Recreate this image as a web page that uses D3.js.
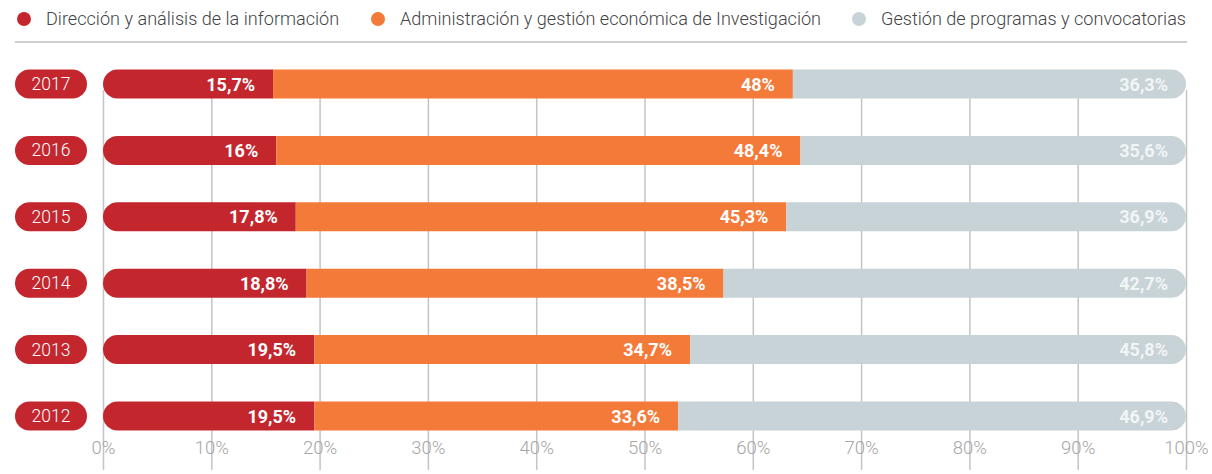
<!DOCTYPE html>
<html>
<head>
<meta charset="utf-8">
<script src="https://cdn.jsdelivr.net/npm/d3@7"></script>
<style>
  body { margin: 0; background: #fff; }
  svg { display: block; font-family: Roboto, "Noto Sans", sans-serif; }
</style>
</head>
<body>
<svg id="chart" width="1212" height="474"></svg>
<script>
// data
const years = ["2017", "2016", "2015", "2014", "2013", "2012"];
const series = [
  "Dirección y análisis de la información",
  "Administración y gestión económica de Investigación",
  "Gestión de programas y convocatorias"
];
const direccion = [15.7, 16, 17.8, 18.8, 19.5, 19.5];
const administracion = [48, 48.4, 45.3, 38.5, 34.7, 33.6];
const gestion = [36.3, 35.6, 36.9, 42.7, 45.8, 46.9];
const ticks = [0, 10, 20, 30, 40, 50, 60, 70, 80, 90, 100];

const colors = ["#c4262e", "#f47a3a", "#c8d3d8"];
const legendX = [24, 378, 859];

const svg = d3.select("#chart");
const fmt = v => String(v).replace(".", ",") + "%";

const x = d3.scaleLinear().domain([0, 100]).range([103, 1186]);
const y = d3.scalePoint().domain(years).range([84, 416]);
const barH = 29;
const r = barH / 2;

// legend
const legend = svg.append("g");
series.forEach((s, i) => {
  legend.append("circle")
    .attr("cx", legendX[i]).attr("cy", 19).attr("r", 7)
    .attr("fill", colors[i]);
  legend.append("text")
    .attr("x", legendX[i] + 22).attr("y", 25)
    .attr("font-size", 18.1).attr("font-weight", 300)
    .attr("fill", "#444")
    .text(s);
});
svg.append("line")
  .attr("x1", 15).attr("x2", 1187).attr("y1", 42).attr("y2", 42)
  .attr("stroke", "#a0a0a0").attr("stroke-width", 1.2);

// grid + axis labels
const axis = svg.append("g")
  .attr("transform", "translate(0,90)")
  .call(d3.axisBottom(x).tickValues(ticks).tickSize(380).tickFormat(d => d + "%"));
axis.select(".domain").remove();
axis.selectAll(".tick line").attr("stroke", "#c4c4c4").attr("stroke-width", 1.5);
axis.selectAll(".tick text")
  .attr("y", 364).attr("dy", 0)
  .attr("font-size", 18.5).attr("font-weight", 300)
  .attr("font-family", "Roboto, sans-serif")
  .attr("fill", "#a6a6a6");

// stacked rows
const rows = years.map((yr, i) => ({
  year: yr,
  vals: [direccion[i], administracion[i], gestion[i]]
}));

function segPath(x0, x1, yc, roundLeft, roundRight) {
  const t = yc - r, b = yc + r;
  const p = d3.path();
  if (roundLeft) {
    p.moveTo(x0 + r, t);
  } else {
    p.moveTo(x0, t);
  }
  if (roundRight) {
    p.lineTo(x1 - r, t);
    p.arc(x1 - r, yc, r, -Math.PI / 2, Math.PI / 2);
  } else {
    p.lineTo(x1, t);
    p.lineTo(x1, b);
  }
  if (roundLeft) {
    p.lineTo(x0 + r, b);
    p.arc(x0 + r, yc, r, Math.PI / 2, Math.PI * 1.5);
  } else {
    p.lineTo(x0, b);
  }
  p.closePath();
  return p.toString();
}

const row = svg.append("g").selectAll("g")
  .data(rows)
  .join("g");

// year pills
row.append("rect")
  .attr("x", 15).attr("y", d => y(d.year) - r)
  .attr("width", 72).attr("height", barH)
  .attr("rx", r)
  .attr("fill", colors[0]);
row.append("text")
  .attr("x", 51).attr("y", d => y(d.year) + 6)
  .attr("text-anchor", "middle")
  .attr("font-size", 17.5).attr("font-weight", 300)
  .attr("fill", "#fff")
  .text(d => d.year);

row.each(function(d) {
  const g = d3.select(this);
  const yc = y(d.year);
  let acc = 0;
  d.vals.forEach((v, i) => {
    const x0 = x(acc);
    const x1 = i === 2 ? x(100) : x(acc + v);
    acc += v;
    g.append("path")
      .attr("d", segPath(x0, x1, yc, i === 0, i === 2))
      .attr("fill", colors[i]);
    g.append("text")
      .attr("x", x1 - 18).attr("y", yc + 6.5)
      .attr("text-anchor", "end")
      .attr("font-size", 18).attr("font-weight", 700)
      .attr("fill", i === 2 ? "#f2f5f6" : "#fff")
      .text(fmt(v));
  });
});
</script>
</body>
</html>
